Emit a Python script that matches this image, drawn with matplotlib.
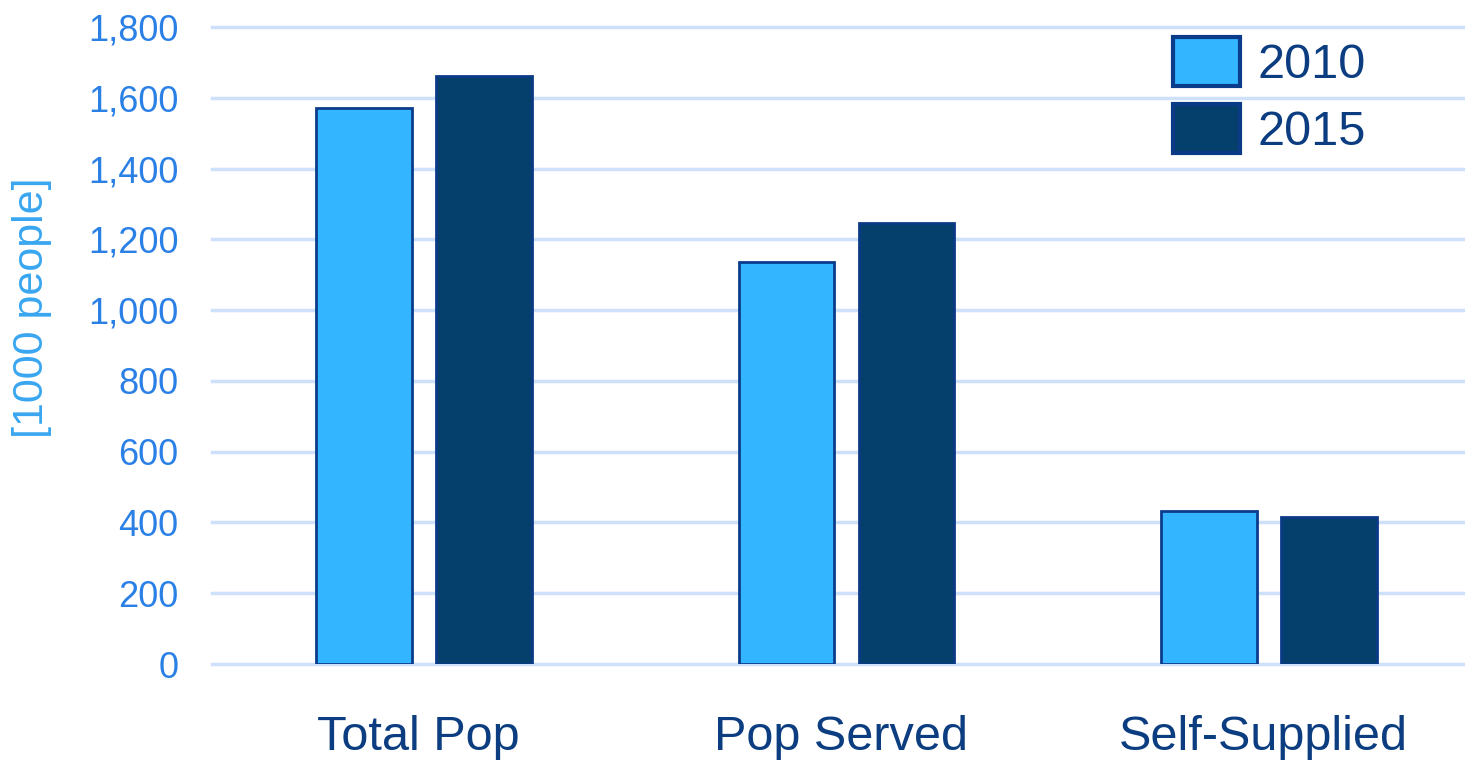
import numpy as np
from matplotlib import pyplot as plt
from matplotlib.ticker import FuncFormatter
from matplotlib.transforms import ScaledTranslation

categories = ['Total Pop', 'Pop Served', 'Self-Supplied']
years = ['2010', '2015']
pop_2010 = [1570, 1137, 433]
pop_2015 = [1661, 1245, 416]

fill_colors = ['#33B5FF', '#053F6B']
edge_colors = ['#0B3C8C', '#0B3A86']
tick_blue = '#2B80E6'
label_blue = '#39A6F0'
navy = '#0B3D80'
grid_blue = '#CFE1FA'

plt.rcParams['font.family'] = ['Liberation Sans', 'DejaVu Sans']

fig = plt.figure(figsize=(14.65, 7.61), dpi=100)
ax = fig.add_axes([212 / 1465, 1 - 664 / 761, 1 - 212 / 1465, (664 - 27) / 761])

x = np.arange(len(categories))
width = 0.227
offset = 0.142
for i, (vals, year) in enumerate([(pop_2010, years[0]), (pop_2015, years[1])]):
    ax.bar(x + (i * 2 - 1) * offset, vals, width, color=fill_colors[i],
           edgecolor=edge_colors[i], linewidth=2, label=year, zorder=3)

ax.set_xlim(-0.502, 2.464)
ax.set_ylim(0, 1800)
ax.set_yticks(np.arange(0, 1801, 200))
ax.yaxis.set_major_formatter(FuncFormatter(lambda v, _: f'{int(v):,}'))
ax.grid(axis='y', color=grid_blue, linewidth=2.5, zorder=0)
for line in ax.get_ygridlines():
    line.set_clip_on(False)
ax.set_xticks(x)
ax.set_xticklabels(categories)

for side in ['top', 'right', 'left', 'bottom']:
    ax.spines[side].set_visible(False)
ax.tick_params(axis='y', length=0, pad=24, labelsize=26, labelcolor=tick_blue)
ax.tick_params(axis='x', length=0, pad=37, labelsize=35, labelcolor=navy)

# category labels sit a little left of the group centres
shift = ScaledTranslation(-6 / 100, 0, fig.dpi_scale_trans)
for lbl in ax.get_xticklabels():
    lbl.set_transform(lbl.get_transform() + shift)

ax.set_ylabel('[1000 people]', fontsize=31, color=label_blue)
ax.yaxis.set_label_coords(-0.128, 0.56)

leg = ax.legend(loc='upper left', bbox_to_anchor=(1173 / 1465, 1 - 37 / 761),
                bbox_transform=fig.transFigure, frameon=False, fontsize=35,
                handlelength=1.38, handleheight=1.17, labelspacing=0.34,
                handletextpad=0.35, borderpad=0, borderaxespad=0)
for text in leg.get_texts():
    text.set_color(navy)
for patch in leg.get_patches():
    patch.set_linewidth(3)

fig.savefig('out.png', dpi=100)
